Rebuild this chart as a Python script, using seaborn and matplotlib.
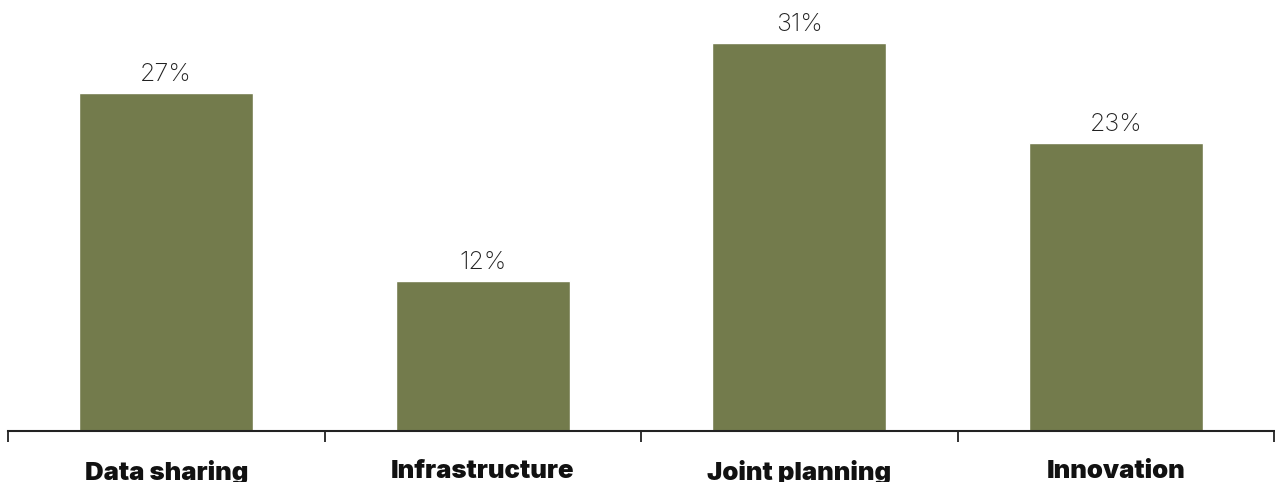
import matplotlib
matplotlib.use("Agg")
import matplotlib.pyplot as plt
import seaborn as sns
import pandas as pd

categories = ["Data sharing", "Infrastructure", "Joint planning", "Innovation"]
values = [27, 12, 31, 23]
value_labels = ["27%", "12%", "31%", "23%"]

sns.set_style("white")
plt.rcParams['font.family'] = ['Inter', 'DejaVu Sans']

df = pd.DataFrame({"cat": categories, "val": values})

fig = plt.figure(figsize=(12.75, 4.82), dpi=100)
ax = fig.add_axes([8/1275, 51/482, 1266/1275, 431/482])
sns.barplot(data=df, x="cat", y="val", color="#737B4C", width=0.55, saturation=1, ax=ax)

for i, (v, lab) in enumerate(zip(values, value_labels)):
    ax.annotate(lab, (i, v), xytext=(0, 5), textcoords="offset points",
                ha="center", va="bottom", fontsize=18, fontweight="light", color="#222222")

ax.set_xlim(-0.5, 3.5)
ax.set_ylim(0, 34.4)
ax.set_xlabel("")
ax.set_ylabel("")
ax.set_yticks([])
for s in ["top", "right", "left"]:
    ax.spines[s].set_visible(False)
ax.spines["bottom"].set_linewidth(1.5)
ax.spines["bottom"].set_color("#222222")

ax.set_xticks([-0.5, 0.5, 1.5, 2.5, 3.5], minor=False)
ax.set_xticklabels([])
ax.tick_params(axis="x", which="major", bottom=True, length=8, width=1.3, color="#222222", direction="out")
ax.set_xticks(range(len(categories)), minor=True)
ax.set_xticklabels(categories, minor=True, fontsize=18.5, fontweight="black", color="#111111")
ax.tick_params(axis="x", which="minor", bottom=True, length=0, pad=21)

fig.savefig("out.png", dpi=100)
